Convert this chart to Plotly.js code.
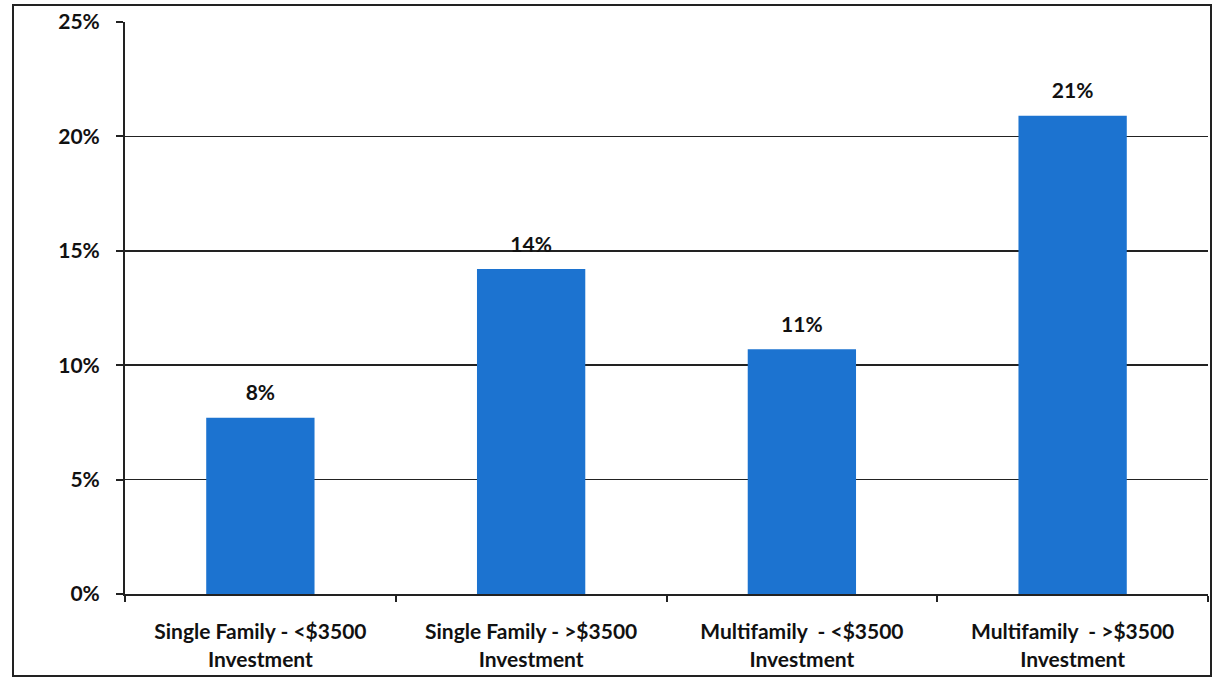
<!DOCTYPE html>
<html>
<head>
<meta charset="utf-8">
<script src="https://cdn.plot.ly/plotly-3.0.1.min.js"></script>
<style>html,body{margin:0;padding:0;background:#fff;}#chart{width:1220px;height:683px;}</style>
</head>
<body>
<div id="chart"></div>
<script>
const categories = [
  "Single Family - <$3500<br>Investment",
  "Single Family - >$3500<br>Investment",
  "Multifamily  - <$3500<br>Investment",
  "Multifamily  - >$3500<br>Investment"
];
const values = [0.077, 0.142, 0.107, 0.209];
const yTickVals = [0, 0.05, 0.10, 0.15, 0.20, 0.25];
const yTickText = ["0%", "5%", "10%", "15%", "20%", "25%"];

const fontFam = "Lato, 'Open Sans', sans-serif";

const bars = {
  type: "bar",
  x: categories,
  y: values,
  marker: {color: "#1c73d0"},
  width: 0.4,
  hoverinfo: "skip"
};

const labels = {
  type: "scatter",
  mode: "markers+text",
  x: categories,
  y: values,
  marker: {size: 18, color: "rgba(0,0,0,0)"},
  texttemplate: "<b>%{y:.0%}</b>",
  textposition: "top center",
  cliponaxis: false,
  textfont: {family: fontFam, size: 21, color: "#111"},
  hoverinfo: "skip"
};

const L = 125, R = 1208, T = 22, B = 594;
const W = R - L, H = B - T;
function px(x){ return (x - L) / W; }
function py(y){ return (B - y) / H; }

const layout = {
  width: 1220, height: 683,
  margin: {l: L, r: 1220 - R, t: T, b: 683 - B},
  paper_bgcolor: "#fff",
  plot_bgcolor: "#fff",
  showlegend: false,
  font: {family: fontFam, size: 21, color: "#111"},
  xaxis: {
    type: "category",
    showline: true, linecolor: "#222", linewidth: 2,
    ticks: "outside", tickson: "boundaries", ticklen: 6, tickcolor: "#222", tickwidth: 2,
    tickfont: {family: fontFam, size: 21, color: "#111", weight: "bold"},
    ticklabelstandoff: 18,
    showgrid: false
  },
  yaxis: {
    range: [0, 0.25],
    tickvals: yTickVals, ticktext: yTickText,
    showline: true, linecolor: "#222", linewidth: 2,
    ticks: "outside", ticklen: 7, tickcolor: "#222", tickwidth: 2,
    tickfont: {family: fontFam, size: 21, color: "#111", weight: "bold"},
    showgrid: true, gridcolor: "#222", gridwidth: 1.5,
    zeroline: false,
    ticklabelstandoff: 12
  },
  shapes: [
    {type: "rect", xref: "paper", yref: "paper",
     x0: px(13), x1: px(1211), y0: py(676), y1: py(5),
     line: {color: "#222", width: 2}, fillcolor: "rgba(0,0,0,0)", layer: "above"}
  ]
};

Plotly.newPlot("chart", [bars, labels], layout, {displayModeBar: false, staticPlot: true});
</script>
</body>
</html>
